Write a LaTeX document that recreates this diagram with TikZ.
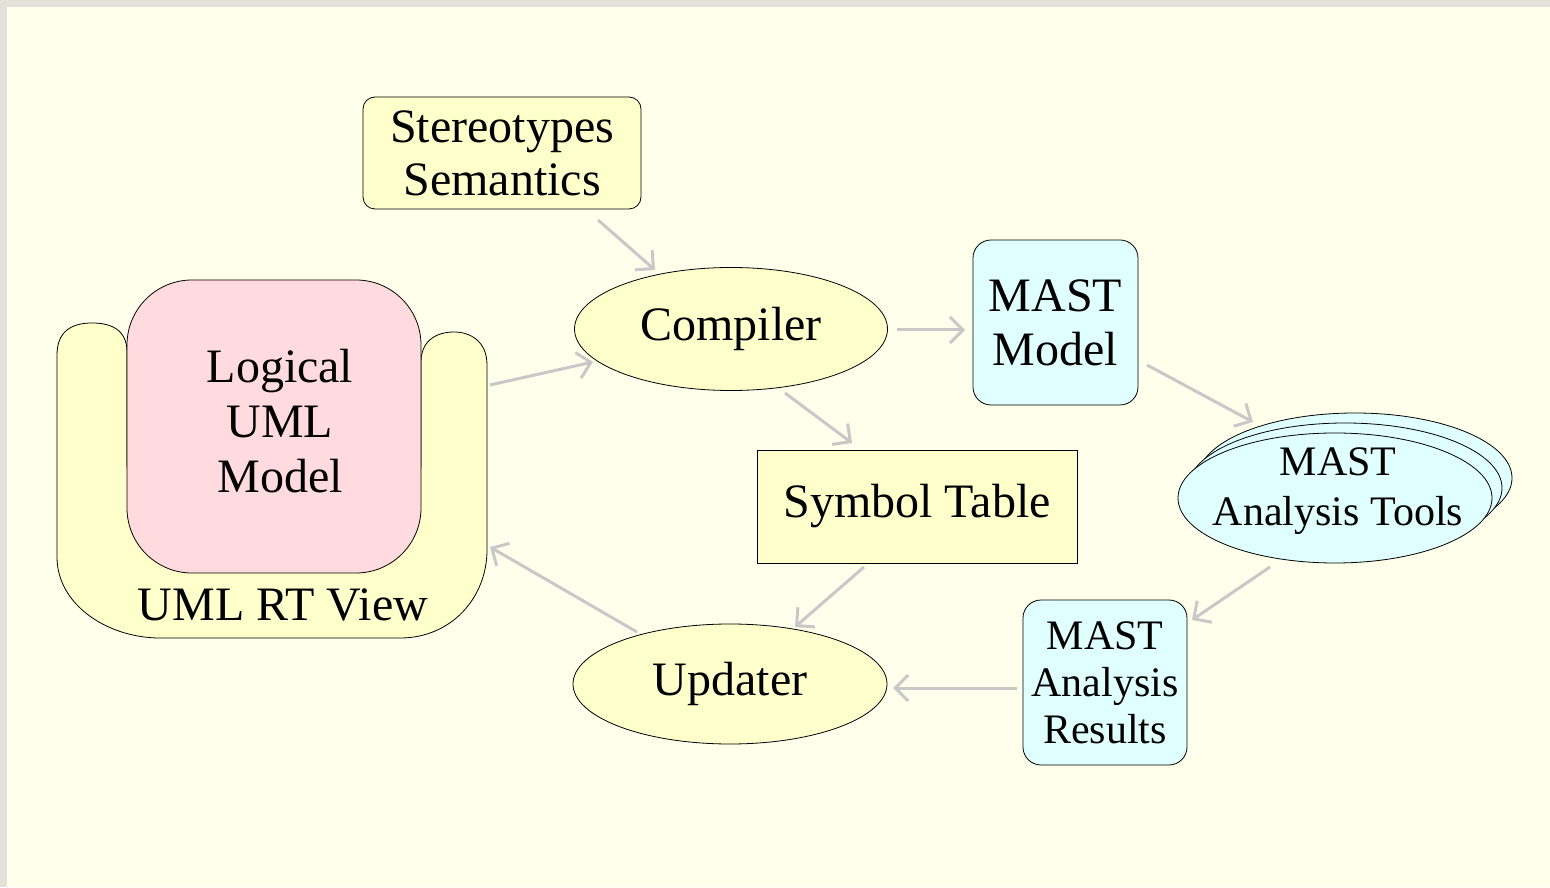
\documentclass[tikz,border=0pt]{standalone}
\usepackage{fontspec}
\setmainfont{Liberation Serif}
\usetikzlibrary{arrows.meta,shapes.geometric}
\definecolor{bgc}{RGB}{255,255,235}
\definecolor{framec}{RGB}{226,226,218}
\definecolor{yel}{RGB}{255,255,204}
\definecolor{cya}{RGB}{224,255,255}
\definecolor{pnk}{RGB}{255,218,222}
\definecolor{agrey}{RGB}{200,200,200}
\tikzset{
  big/.style={font=\fontsize{48}{55}\selectfont},
  shp/.style={draw=black, line width=0.8pt, inner sep=0pt, align=center},
  ybox/.style={shp, fill=yel},
  cbox/.style={shp, fill=cya, rounded corners=18pt},
  yell/.style={shp, ellipse, fill=yel},
  cell/.style={shp, ellipse, fill=cya, minimum width=314pt, minimum height=130pt},
  arr/.style={draw=agrey, line width=3pt, -{Straight Barb[length=13pt,width=26pt,line width=3pt]}}
}
\begin{document}
\begin{tikzpicture}[x=1pt,y=1pt]
\useasboundingbox (0,0) rectangle (1550,887);
\fill[framec] (0,0) rectangle (1550,887);
\fill[bgc] (7,0) rectangle (1550,880);

% UML RT View U-shape
\filldraw[fill=yel, draw=black, line width=0.8pt]
  (127,535) .. controls (127,558) and (110,564) .. (92,564)
  .. controls (72,564) and (57,556) .. (57,532)
  -- (57,330) .. controls (57,282) and (108,249) .. (160,249)
  -- (400,249) .. controls (452,249) and (487,290) .. (487,337)
  -- (487,522) .. controls (487,546) and (470,555) .. (454,555)
  .. controls (436,555) and (421,546) .. (421,525)
  -- (421,420) -- (127,420) -- cycle;
\coordinate (view) at (272,406);
\node[big] (viewlabel) at (283,282) {UML RT View};
\node[shp, fill=pnk, rounded corners=65pt, minimum width=294pt, minimum height=293pt] (logic) at (274,460.5) {};
\node[big, align=center] (logictext) at (280,466) {Logical\\UML\\Model};

% other nodes
\node[ybox, rounded corners=12pt, minimum width=278pt, minimum height=112pt, font=\fontsize{48}{53}\selectfont] (stereo) at (502,734) {Stereotypes\\Semantics};
\node[yell, minimum width=313pt, minimum height=123pt, big] (comp) at (731,558) {Compiler};
\node[cbox, minimum width=165pt, minimum height=165pt, font=\fontsize{48}{54}\selectfont] (mmodel) at (1055.5,564.5) {MAST\\Model};
\node[ybox, minimum width=320pt, minimum height=113pt, big] (symtab) at (917,380.5) {\raisebox{6pt}{Symbol Table}};
\node[yell, minimum width=314pt, minimum height=120pt, big] (upd) at (730,203) {Updater};
\node[cbox, minimum width=164pt, minimum height=165pt, font=\fontsize{42}{47}\selectfont] (results) at (1105,204.5) {MAST\\Analysis\\Results};
\node[cell] (toolsb) at (1355,409) {};
\node[cell] (toolsm) at (1345,399) {};
\node[cell] (tools) at (1335,389) {};
\node[align=center, font=\fontsize{42}{50}\selectfont] (toolstext) at (1338,396) {MAST\\Analysis Tools};

% connectors
\draw[arr] ([shift={(96,-67)}]stereo.center) -- ([shift={(-76,59)}]comp.center);
\draw[arr] ([shift={(218,96)}]view) -- ([shift={(-138,-33)}]comp.center);
\draw[arr] ([shift={(166,-1)}]comp.center) -- ([shift={(-90.5,-7.5)}]mmodel.center);
\draw[arr] ([shift={(54,-64)}]comp.center) -- ([shift={(-65,63.5)}]symtab.center);
\draw[arr] ([shift={(91.5,-42.5)}]mmodel.center) -- ([shift={(-82,76)}]tools.center);
\draw[arr] ([shift={(-65,-69)}]tools.center) -- ([shift={(87,62.5)}]results.center);
\draw[arr] ([shift={(-88,-5.5)}]results.center) -- ([shift={(163,-4)}]upd.center);
\draw[arr] ([shift={(-53,-60.5)}]symtab.center) -- ([shift={(65,57)}]upd.center);
\draw[arr] ([shift={(-93,52)}]upd.center) -- ([shift={(218,-66)}]view);
\end{tikzpicture}
\end{document}
